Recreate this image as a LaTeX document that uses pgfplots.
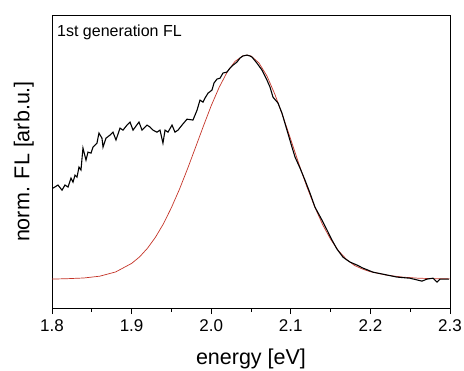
\documentclass[border=0pt]{standalone}
\usepackage{pgfplots}
\pgfplotsset{compat=1.18}
\usepackage{fontspec}
\setmainfont{Liberation Sans}
\definecolor{fitred}{RGB}{196,52,40}
\begin{document}
\begin{tikzpicture}
\begin{axis}[
  scale only axis, width=398bp, height=293bp,
  xmin=1.8, xmax=2.3, ymin=-0.129, ymax=1.179,
  ytick=\empty,
  xtick={1.8,1.9,2.0,2.1,2.2,2.3},
  minor x tick num=1,
  xtick pos=bottom,
  tick align=outside,
  major tick length=6bp, minor tick length=4bp,
  axis line style={line width=0.9pt},
  every tick/.style={black, line width=1pt},
  x tick label style={font=\fontsize{17bp}{19bp}\selectfont, yshift=-2bp, /pgf/number format/.cd, fixed, fixed zerofill, precision=1, assume math mode=true},
  xlabel={energy [eV]},
  ylabel={norm. FL [arb.u.]},
  label style={font=\fontsize{21.5bp}{24bp}\selectfont},
  xlabel style={at={(axis description cs:0.5,-0.1945)}, anchor=base},
  ylabel style={at={(axis description cs:-0.057,0.5)}, anchor=base, rotate=0},
]
\addplot[fitred, line width=0.7pt] coordinates {
(1.80,0.000) (1.82,0.002) (1.84,0.005) (1.86,0.013) (1.88,0.032) (1.90,0.070)
(1.91,0.099) (1.92,0.138) (1.93,0.187) (1.94,0.247) (1.95,0.319) (1.96,0.400)
(1.97,0.490) (1.98,0.585) (1.99,0.681) (2.00,0.774) (2.01,0.856) (2.02,0.924)
(2.03,0.972) (2.04,0.997) (2.045,1.000) (2.05,0.996) (2.06,0.965) (2.07,0.907)
(2.08,0.825) (2.09,0.728) (2.10,0.623) (2.11,0.516) (2.12,0.414) (2.13,0.323)
(2.14,0.243) (2.15,0.178) (2.16,0.126) (2.17,0.088) (2.18,0.061) (2.19,0.045)
(2.20,0.033) (2.22,0.018) (2.24,0.009) (2.26,0.004) (2.28,0.002) (2.30,0.001)
};
\addplot[black, line width=1.1pt] coordinates {
(1.8013,0.406) (1.8075,0.420) (1.8126,0.397) (1.8163,0.420) (1.8201,0.411)
(1.8239,0.451) (1.8264,0.433) (1.8289,0.464) (1.8314,0.455) (1.8339,0.500)
(1.8364,0.487) (1.8389,0.585) (1.8427,0.531) (1.8452,0.567) (1.8490,0.5625)
(1.8515,0.589) (1.8565,0.607) (1.8590,0.652) (1.8628,0.629) (1.8641,0.589)
(1.8678,0.629) (1.8729,0.643) (1.8766,0.656) (1.8804,0.621) (1.8854,0.674)
(1.8892,0.665) (1.8942,0.6875) (1.8980,0.701) (1.9018,0.665) (1.9055,0.683)
(1.9093,0.701) (1.9131,0.665) (1.9193,0.6875) (1.9231,0.679) (1.9269,0.665)
(1.9319,0.656) (1.9357,0.665) (1.9394,0.607) (1.9420,0.665) (1.9457,0.656)
(1.9508,0.6875) (1.9545,0.656) (1.9583,0.665) (1.9633,0.6875) (1.9696,0.714)
(1.9771,0.710) (1.9822,0.754) (1.9859,0.799) (1.9897,0.790) (1.9922,0.808)
(1.9960,0.830) (2.0010,0.844) (2.0035,0.875) (2.0073,0.893) (2.0111,0.897)
(2.0148,0.920) (2.0198,0.924) (2.0236,0.942) (2.0274,0.955) (2.0324,0.969)
(2.0362,0.987) (2.0399,0.996) (2.0450,1.000) (2.0487,0.996) (2.0513,0.991)
(2.0575,0.964) (2.0638,0.933) (2.0701,0.888) (2.0739,0.857) (2.0776,0.8125)
(2.0839,0.786) (2.0889,0.741) (2.0952,0.665) (2.1015,0.589) (2.1053,0.545)
(2.1116,0.4955) (2.1178,0.442) (2.1241,0.384) (2.1304,0.321) (2.1392,0.263)
(2.1455,0.219) (2.1518,0.174) (2.1580,0.134) (2.1656,0.098) (2.1706,0.085)
(2.1744,0.076) (2.1832,0.0625) (2.1907,0.049) (2.2033,0.031) (2.2158,0.022)
(2.2334,0.009) (2.2497,0.004) (2.2648,-0.009) (2.2711,0.000) (2.2786,0.004)
(2.2837,-0.013) (2.2874,0.000) (2.2987,0.000)
};
\node[anchor=base west, font=\fontsize{16bp}{18bp}\selectfont, inner sep=0pt] at (axis description cs:0.0126,0.925) {1st generation FL};
\end{axis}
\pgfresetboundingbox
\path ([shift={(-52bp,-63bp)}]current axis.south west) rectangle ([shift={(14bp,15bp)}]current axis.north east);
\end{tikzpicture}
\end{document}
